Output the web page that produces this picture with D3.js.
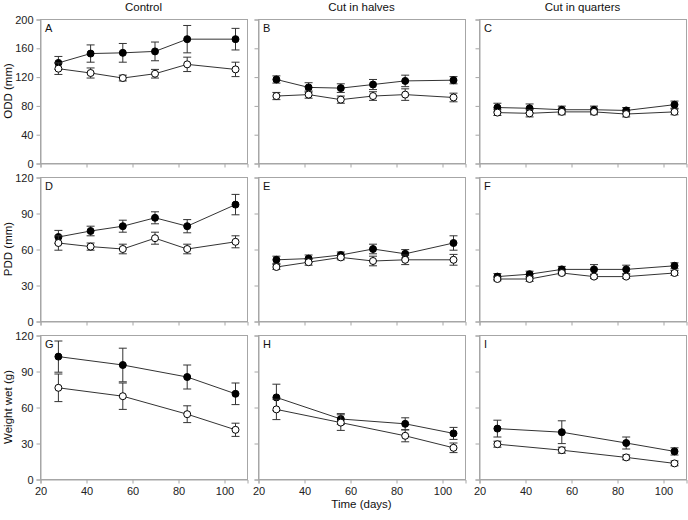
<!DOCTYPE html>
<html>
<head>
<meta charset="utf-8">
<script src="https://cdn.jsdelivr.net/npm/d3@7"></script>
<style>
  body { margin: 0; background: #fff; }
  svg { display: block; font-family: "Liberation Sans", Arial, sans-serif; }
</style>
</head>
<body>
<svg id="chart" width="688" height="520"></svg>
<script>
// ---------- data ----------
const columnTitles = ["Control", "Cut in halves", "Cut in quarters"];
const rowTitles = ["ODD (mm)", "PDD (mm)", "Weight wet (g)"];
const panelLetters = ["A","B","C","D","E","F","G","H","I"];
const daysDiam = [28, 42, 56, 70, 84, 105];
const daysWeight = [28, 56, 84, 105];
const xTicks = [20, 40, 60, 80, 100];
const yTicksODD = [0, 40, 80, 120, 160, 200];
const yTicksPDD = [0, 30, 60, 90, 120];
const yTicksWeight = [0, 30, 60, 90, 120];

// ODD
const oddControlFilled = [139, 152, 153, 155, 172, 172];
const oddControlFilledErr = [9, 12, 13, 13, 19, 15];
const oddControlOpen = [131, 125, 118, 124, 137, 130];
const oddControlOpenErr = [8, 7, 4, 6, 10, 10];
const oddHalvesFilled = [116, 105, 104, 109, 114, 115];
const oddHalvesFilledErr = [5, 6.5, 6, 7, 8, 5];
const oddHalvesOpen = [93, 95, 88, 93, 95, 91];
const oddHalvesOpenErr = [5, 5, 5, 6, 8, 6];
const oddQuartersFilled = [77, 76, 74, 74, 73, 81];
const oddQuartersFilledErr = [6, 6, 5, 5, 4, 5];
const oddQuartersOpen = [70, 69, 71, 71, 68, 71];
const oddQuartersOpenErr = [4, 5, 4, 4, 4, 4];

// PDD
const pddControlFilled = [70, 75, 79, 86, 79, 97];
const pddControlFilledErr = [5.5, 4, 5, 5, 5.5, 8.5];
const pddControlOpen = [65, 62, 60, 69, 60, 66];
const pddControlOpenErr = [6, 3, 4, 5, 4, 5];
const pddHalvesFilled = [51, 52, 55, 60, 56, 65];
const pddHalvesFilledErr = [3, 3, 2.5, 4, 3.5, 6];
const pddHalvesOpen = [45, 49, 53, 50, 51, 51];
const pddHalvesOpenErr = [2, 2.5, 2, 4, 4, 4.5];
const pddQuartersFilled = [37, 39, 43, 43, 43, 46];
const pddQuartersFilledErr = [2.5, 2.5, 2.5, 4, 3.5, 2.5];
const pddQuartersOpen = [35, 35, 40, 37, 37, 40];
const pddQuartersOpenErr = [1.5, 2, 1.5, 1.5, 1.5, 2];

// Weight wet
const wtControlFilled = [102, 95, 85, 71];
const wtControlFilledErr = [13, 14, 10, 9];
const wtControlOpen = [76, 69, 54, 41];
const wtControlOpenErr = [11.5, 11, 7, 5.5];
const wtHalvesFilled = [68, 50, 46, 38];
const wtHalvesFilledErr = [11, 4.5, 5, 5];
const wtHalvesOpen = [58, 47, 36, 26];
const wtHalvesOpenErr = [8.5, 6.5, 5, 4];
const wtQuartersFilled = [42, 39, 30, 23];
const wtQuartersFilledErr = [7, 9.5, 5, 3];
const wtQuartersOpen = [29, 24, 18, 13];
const wtQuartersOpenErr = [2.5, 2.5, 2, 2];

// ---------- layout ----------
const svg = d3.select("#chart");
const colLeft = [40, 258, 479];
const panelW = 207;
const rowTop = [19, 177, 335];
const panelH = 144;
const frameColor = "#a6a6a6";
const inkColor = "#333";

const rows = [
  { ticks: yTicksODD, max: 200, x: daysDiam,
    panels: [
      [oddControlFilled, oddControlFilledErr, oddControlOpen, oddControlOpenErr],
      [oddHalvesFilled, oddHalvesFilledErr, oddHalvesOpen, oddHalvesOpenErr],
      [oddQuartersFilled, oddQuartersFilledErr, oddQuartersOpen, oddQuartersOpenErr]
    ] },
  { ticks: yTicksPDD, max: 120, x: daysDiam,
    panels: [
      [pddControlFilled, pddControlFilledErr, pddControlOpen, pddControlOpenErr],
      [pddHalvesFilled, pddHalvesFilledErr, pddHalvesOpen, pddHalvesOpenErr],
      [pddQuartersFilled, pddQuartersFilledErr, pddQuartersOpen, pddQuartersOpenErr]
    ] },
  { ticks: yTicksWeight, max: 120, x: daysWeight,
    panels: [
      [wtControlFilled, wtControlFilledErr, wtControlOpen, wtControlOpenErr],
      [wtHalvesFilled, wtHalvesFilledErr, wtHalvesOpen, wtHalvesOpenErr],
      [wtQuartersFilled, wtQuartersFilledErr, wtQuartersOpen, wtQuartersOpenErr]
    ] }
];

rows.forEach((row, ri) => {
  row.panels.forEach((p, ci) => {
    const left = colLeft[ci], top = rowTop[ri];
    const x = d3.scaleLinear().domain([20, 110]).range([left, left + panelW]);
    const y = d3.scaleLinear().domain([0, row.max]).range([top + panelH, top]);
    const g = svg.append("g");

    // frame
    g.append("rect").attr("x", left + 0.5).attr("y", top + 0.5)
      .attr("width", panelW).attr("height", panelH)
      .attr("fill", "none").attr("stroke", frameColor).attr("stroke-width", 1);

    // axes
    const yAxis = d3.axisLeft(y).tickValues(row.ticks).tickSize(4).tickPadding(3)
      .tickFormat(ci === 0 ? d3.format("d") : () => "");
    const ya = g.append("g").attr("transform", `translate(${left + 0.5},0.5)`).call(yAxis);
    const xAxis = d3.axisBottom(x).tickValues(xTicks).tickSize(4).tickPadding(4)
      .tickFormat(ri === 2 ? d3.format("d") : () => "");
    const xa = g.append("g").attr("transform", `translate(0.5,${top + panelH + 0.5})`).call(xAxis);
    [ya, xa].forEach(a => {
      a.select(".domain").attr("stroke", frameColor);
      a.selectAll(".tick line").attr("stroke", frameColor);
      a.selectAll(".tick text").attr("fill", "#222").style("font-size", "11px")
        .style("font-family", '"Liberation Sans", Arial, sans-serif');
    });

    // panel letter
    g.append("text").attr("x", left + 5).attr("y", top + 13)
      .attr("font-size", 11).attr("fill", "#111").text(panelLetters[ri * 3 + ci]);

    const series = [
      { v: p[0], e: p[1], fill: "#000" },
      { v: p[2], e: p[3], fill: "#fff" }
    ];
    series.forEach(s => {
      const pts = row.x.map((d, i) => ({ d, v: s.v[i], e: s.e[i] }));
      g.append("path").datum(pts)
        .attr("fill", "none").attr("stroke", inkColor).attr("stroke-width", 1)
        .attr("d", d3.line().x(d => x(d.d)).y(d => y(d.v)));
      const eb = g.append("g").attr("stroke", inkColor).attr("stroke-width", 1);
      pts.forEach(d => {
        const cx = x(d.d);
        eb.append("line").attr("x1", cx).attr("x2", cx).attr("y1", y(d.v - d.e)).attr("y2", y(d.v + d.e));
        eb.append("line").attr("x1", cx - 4).attr("x2", cx + 4).attr("y1", y(d.v + d.e)).attr("y2", y(d.v + d.e));
        eb.append("line").attr("x1", cx - 4).attr("x2", cx + 4).attr("y1", y(d.v - d.e)).attr("y2", y(d.v - d.e));
      });
      g.selectAll(null).data(pts).enter().append("circle")
        .attr("cx", d => x(d.d)).attr("cy", d => y(d.v)).attr("r", 3.5)
        .attr("fill", s.fill).attr("stroke", "#000").attr("stroke-width", 1);
    });
  });
});

// column titles
columnTitles.forEach((t, ci) => {
  svg.append("text").attr("x", colLeft[ci] + panelW / 2).attr("y", 11)
    .attr("text-anchor", "middle").attr("font-size", 11.5).attr("fill", "#111").text(t);
});
// row titles
rowTitles.forEach((t, ri) => {
  svg.append("text")
    .attr("transform", `translate(12,${rowTop[ri] + panelH / 2}) rotate(-90)`)
    .attr("text-anchor", "middle").attr("font-size", 11.5).attr("fill", "#111").text(t);
});
// x title
svg.append("text").attr("x", colLeft[1] + panelW / 2).attr("y", 508)
  .attr("text-anchor", "middle").attr("font-size", 11.5).attr("fill", "#111").text("Time (days)");
</script>
</body>
</html>
